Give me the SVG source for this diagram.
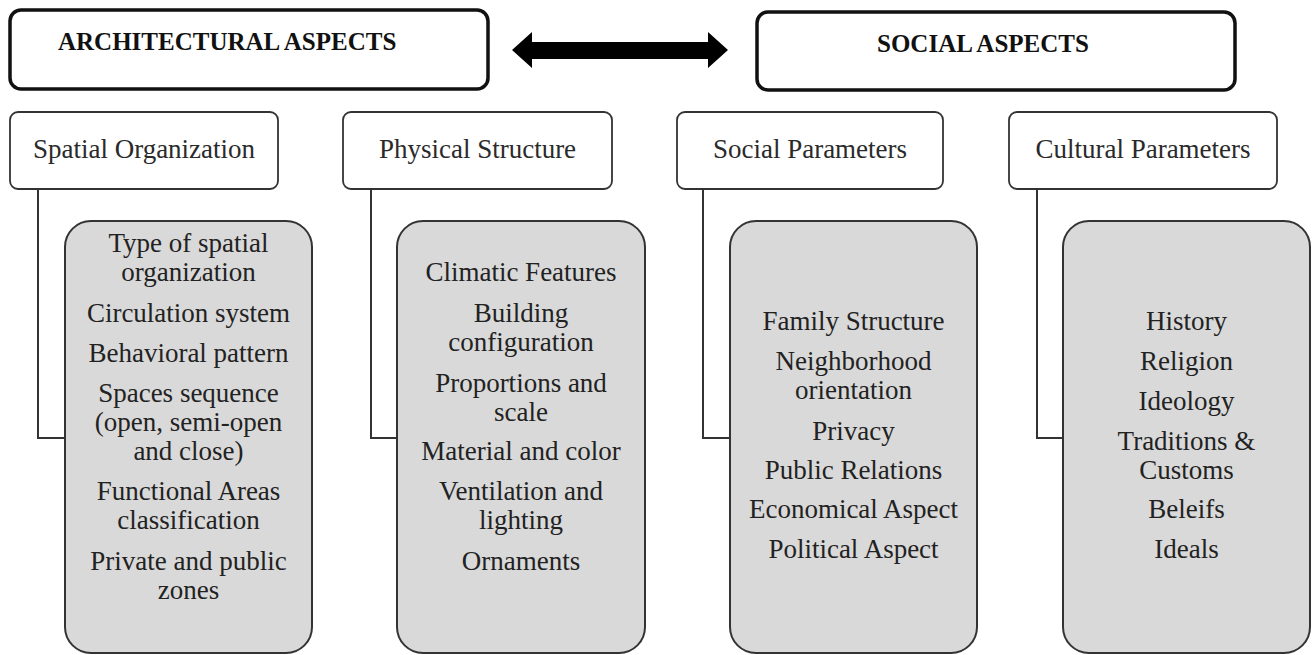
<svg xmlns="http://www.w3.org/2000/svg" width="1312" height="655" viewBox="0 0 1312 655">
  <style>
    .head { fill: #ffffff; stroke: #111111; stroke-width: 3.5; }
    .head-text { font-family: "Liberation Serif", "Times New Roman", serif; font-weight: bold; font-size: 25px; fill: #111111; }
    .cat { fill: #ffffff; stroke: #333333; stroke-width: 1.8; }
    .cat-text { font-family: "Liberation Serif", "Times New Roman", serif; font-size: 27px; fill: #2a2a2a; text-anchor: middle; }
    .list { fill: #d9d9d9; stroke: #333333; stroke-width: 2; }
    .list-text { font-family: "Liberation Serif", "Times New Roman", serif; font-size: 27px; fill: #222222; text-anchor: middle; }
    .link { fill: none; stroke: #333333; stroke-width: 2; }
  </style>

  <rect width="1312" height="655" fill="#ffffff"/>

  <!-- top-level headings -->
  <g id="architectural-aspects">
    <rect class="head" x="10" y="10" width="478" height="79" rx="11"/>
    <text class="head-text" x="58" y="50">ARCHITECTURAL ASPECTS</text>
  </g>
  <g id="social-aspects">
    <rect class="head" x="757" y="12" width="478" height="78" rx="11"/>
    <text class="head-text" x="877" y="52">SOCIAL ASPECTS</text>
  </g>

  <!-- connectors: two-way arrow and category-to-list brackets -->
  <g id="connectors">
    <polygon points="512,50 532,32 532,42 708,42 708,32 728,50 708,68 708,59 532,59 532,68" fill="#000000"/>
    <polyline class="link" points="38,189 38,438 65,438"/>
    <polyline class="link" points="371,189 371,438 397,438"/>
    <polyline class="link" points="703,189 703,438 730,438"/>
    <polyline class="link" points="1037,189 1037,438 1063,438"/>
  </g>

  <!-- category boxes -->
  <g id="spatial-organization">
    <rect class="cat" x="10" y="112" width="268" height="77" rx="8"/>
    <text class="cat-text" x="144" y="158">Spatial Organization</text>
  </g>
  <g id="physical-structure">
    <rect class="cat" x="343" y="112" width="269" height="77" rx="8"/>
    <text class="cat-text" x="477.5" y="158">Physical Structure</text>
  </g>
  <g id="social-parameters">
    <rect class="cat" x="677" y="112" width="266" height="77" rx="8"/>
    <text class="cat-text" x="810" y="158">Social Parameters</text>
  </g>
  <g id="cultural-parameters">
    <rect class="cat" x="1009" y="112" width="268" height="77" rx="8"/>
    <text class="cat-text" x="1143" y="158">Cultural Parameters</text>
  </g>

  <!-- item lists -->
  <g id="spatial-items">
    <rect class="list" x="65" y="221" width="247" height="432" rx="26"/>
    <text class="list-text" x="188.5" y="252">Type of spatial</text>
    <text class="list-text" x="188.5" y="281">organization</text>
    <text class="list-text" x="188.5" y="322">Circulation system</text>
    <text class="list-text" x="188.5" y="362">Behavioral pattern</text>
    <text class="list-text" x="188.5" y="402">Spaces sequence</text>
    <text class="list-text" x="188.5" y="431">(open, semi-open</text>
    <text class="list-text" x="188.5" y="460">and close)</text>
    <text class="list-text" x="188.5" y="500">Functional Areas</text>
    <text class="list-text" x="188.5" y="529">classification</text>
    <text class="list-text" x="188.5" y="570">Private and public</text>
    <text class="list-text" x="188.5" y="599">zones</text>
  </g>
  <g id="physical-items">
    <rect class="list" x="397" y="221" width="248" height="432" rx="26"/>
    <text class="list-text" x="521" y="281">Climatic Features</text>
    <text class="list-text" x="521" y="322">Building</text>
    <text class="list-text" x="521" y="351">configuration</text>
    <text class="list-text" x="521" y="392">Proportions and</text>
    <text class="list-text" x="521" y="421">scale</text>
    <text class="list-text" x="521" y="460">Material and color</text>
    <text class="list-text" x="521" y="500">Ventilation and</text>
    <text class="list-text" x="521" y="529">lighting</text>
    <text class="list-text" x="521" y="570">Ornaments</text>
  </g>
  <g id="social-items">
    <rect class="list" x="730" y="221" width="247" height="432" rx="26"/>
    <text class="list-text" x="853.5" y="330">Family Structure</text>
    <text class="list-text" x="853.5" y="370">Neighborhood</text>
    <text class="list-text" x="853.5" y="399">orientation</text>
    <text class="list-text" x="853.5" y="440">Privacy</text>
    <text class="list-text" x="853.5" y="479">Public Relations</text>
    <text class="list-text" x="853.5" y="518">Economical Aspect</text>
    <text class="list-text" x="853.5" y="558">Political Aspect</text>
  </g>
  <g id="cultural-items">
    <rect class="list" x="1063" y="221" width="247" height="432" rx="26"/>
    <text class="list-text" x="1186.5" y="330">History</text>
    <text class="list-text" x="1186.5" y="370">Religion</text>
    <text class="list-text" x="1186.5" y="410">Ideology</text>
    <text class="list-text" x="1186.5" y="450">Traditions &amp;</text>
    <text class="list-text" x="1186.5" y="479">Customs</text>
    <text class="list-text" x="1186.5" y="518">Beleifs</text>
    <text class="list-text" x="1186.5" y="558">Ideals</text>
  </g>
</svg>
